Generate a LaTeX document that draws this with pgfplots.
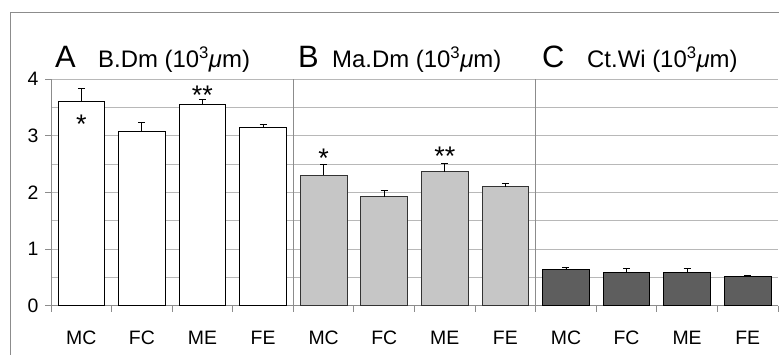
\documentclass[border=0pt]{standalone}
\usepackage{pgfplots}
\pgfplotsset{compat=1.18}
\usepackage{fontspec}
\setmainfont{Liberation Sans}
\definecolor{gridc}{HTML}{B8B8B8}
\definecolor{axc}{HTML}{8C8C8C}
\definecolor{barB}{HTML}{C6C6C6}
\definecolor{barC}{HTML}{5E5E5E}
\begin{document}
\begin{tikzpicture}
\useasboundingbox (-51bp,-49.3bp) rectangle (728bp,305.7bp);
\draw[axc, line width=0.9bp] (-41bp,-60bp) -- (-41bp,293.7bp) -- (740bp,293.7bp);
\begin{axis}[
  at={(0,0)}, anchor=south west,
  scale only axis, width=727bp, height=226.7bp,
  xmin=-0.5, xmax=11.5, ymin=0, ymax=4,
  axis lines=left, axis line style={axc, line width=0.9bp, -},
  ytick={0,1,2,3,4}, minor ytick={0.5,1.5,2.5,3.5},
  ymajorgrids, yminorgrids,
  major grid style={gridc, line width=0.9bp},
  minor grid style={gridc, line width=0.9bp},
  xtick={-0.5,0.5,...,11.5}, xticklabels={},
  extra x ticks={0,1,...,11},
  extra x tick labels={MC,FC,ME,FE,MC,FC,ME,FE,MC,FC,ME,FE},
  extra x tick style={major tick length=0pt, grid=none,
    xticklabel style={anchor=north, yshift=-21bp, text height=14bp, text depth=0pt}},
  tick align=outside, major tick length=6bp, minor tick length=0pt,
  tick style={axc, line width=0.9bp},
  ticklabel style={font=\fontsize{19.5}{21}\selectfont, text=black},
  yticklabel style={xshift=-3bp},
  /pgf/number format/assume math mode=true,
  clip=false,
]
\addplot[ybar, bar width=0.77, bar shift=0pt, fill=white, draw=black, line width=0.9bp,
  error bars/.cd, y dir=plus, y explicit,
  error bar style={black, line width=0.8bp},
  error mark options={rotate=90, mark size=3.5bp, black, line width=0.8bp}]
  coordinates {(0,3.60) +- (0,0.23) (1,3.07) +- (0,0.16) (2,3.545) +- (0,0.10) (3,3.15) +- (0,0.05)};
\addplot[ybar, bar width=0.77, bar shift=0pt, fill=barB, draw=black!80, line width=0.9bp,
  error bars/.cd, y dir=plus, y explicit,
  error bar style={black, line width=0.8bp},
  error mark options={rotate=90, mark size=3.5bp, black, line width=0.8bp}]
  coordinates {(4,2.305) +- (0,0.19) (5,1.92) +- (0,0.11) (6,2.36) +- (0,0.15) (7,2.10) +- (0,0.05)};
\addplot[ybar, bar width=0.77, bar shift=0pt, fill=barC, draw=black, line width=0.9bp,
  error bars/.cd, y dir=plus, y explicit,
  error bar style={black, line width=0.8bp},
  error mark options={rotate=90, mark size=3.5bp, black, line width=0.8bp}]
  coordinates {(8,0.64) +- (0,0.04) (9,0.59) +- (0,0.06) (10,0.59) +- (0,0.06) (11,0.52) +- (0,0.02)};
\draw[axc, line width=0.9bp] (axis cs:3.5,0) -- (axis cs:3.5,4);
\draw[axc, line width=0.9bp] (axis cs:7.5,0) -- (axis cs:7.5,4);
\node[font=\fontsize{27}{27}\selectfont] at (axis cs:0,3.21) {*};
\node[font=\fontsize{27}{27}\selectfont] at (axis cs:2,3.71) {**};
\node[font=\fontsize{27}{27}\selectfont] at (axis cs:4,2.61) {*};
\node[font=\fontsize{27}{27}\selectfont] at (axis cs:6,2.63) {**};
\end{axis}
\node[anchor=base west, inner sep=0pt, font=\fontsize{31}{31}\selectfont] at (4bp,238.5bp) {A};
\node[anchor=base west, inner sep=0pt, font=\fontsize{24}{24}\selectfont] at (47bp,238.5bp) {B.Dm (10\textsuperscript{3}\textit{μ}m)};
\node[anchor=base west, inner sep=0pt, font=\fontsize{31}{31}\selectfont] at (247bp,238.5bp) {B};
\node[anchor=base west, inner sep=0pt, font=\fontsize{24}{24}\selectfont] at (281bp,238.5bp) {Ma.Dm (10\textsuperscript{3}\textit{μ}m)};
\node[anchor=base west, inner sep=0pt, font=\fontsize{31}{31}\selectfont] at (491bp,238.5bp) {C};
\node[anchor=base west, inner sep=0pt, font=\fontsize{24}{24}\selectfont] at (536bp,238.5bp) {Ct.Wi (10\textsuperscript{3}\textit{μ}m)};
\end{tikzpicture}
\end{document}
